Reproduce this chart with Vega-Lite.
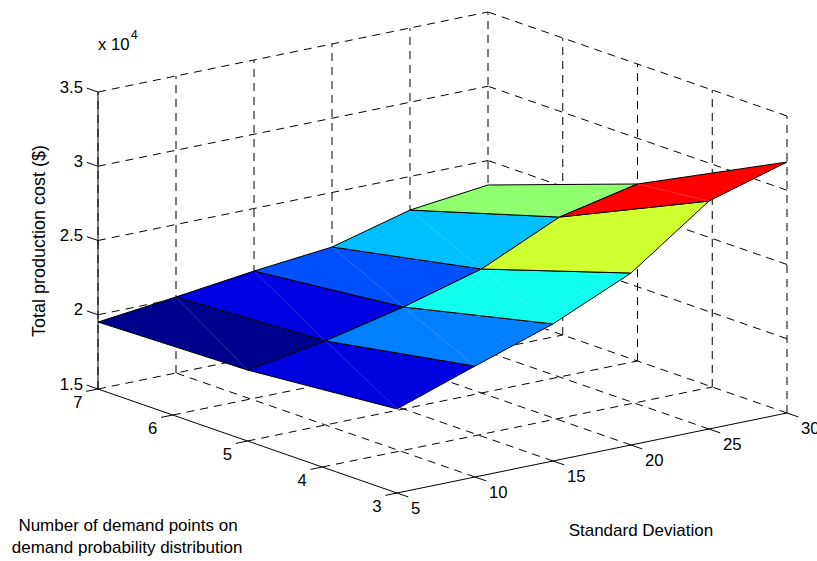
{"$schema":"https://vega.github.io/schema/vega-lite/v6.json","width":817,"height":561,"padding":0,"autosize":"none","background":"white","view":{"stroke":null},
"data":{"values":[
{"k":"grid","l":"w1","o":0,"sd":5,"n":7,"cost":15000},{"k":"grid","l":"w1","o":1,"sd":5,"n":7,"cost":35000},
{"k":"grid","l":"w2","o":0,"sd":10,"n":7,"cost":15000},{"k":"grid","l":"w2","o":1,"sd":10,"n":7,"cost":35000},
{"k":"grid","l":"w3","o":0,"sd":15,"n":7,"cost":15000},{"k":"grid","l":"w3","o":1,"sd":15,"n":7,"cost":35000},
{"k":"grid","l":"w4","o":0,"sd":20,"n":7,"cost":15000},{"k":"grid","l":"w4","o":1,"sd":20,"n":7,"cost":35000},
{"k":"grid","l":"w5","o":0,"sd":25,"n":7,"cost":15000},{"k":"grid","l":"w5","o":1,"sd":25,"n":7,"cost":35000},
{"k":"grid","l":"w6","o":0,"sd":30,"n":7,"cost":15000},{"k":"grid","l":"w6","o":1,"sd":30,"n":7,"cost":35000},
{"k":"grid","l":"h1","o":0,"sd":5,"n":7,"cost":15000},{"k":"grid","l":"h1","o":1,"sd":30,"n":7,"cost":15000},
{"k":"grid","l":"h2","o":0,"sd":5,"n":7,"cost":20000},{"k":"grid","l":"h2","o":1,"sd":30,"n":7,"cost":20000},
{"k":"grid","l":"h3","o":0,"sd":5,"n":7,"cost":25000},{"k":"grid","l":"h3","o":1,"sd":30,"n":7,"cost":25000},
{"k":"grid","l":"h4","o":0,"sd":5,"n":7,"cost":30000},{"k":"grid","l":"h4","o":1,"sd":30,"n":7,"cost":30000},
{"k":"grid","l":"h5","o":0,"sd":5,"n":7,"cost":35000},{"k":"grid","l":"h5","o":1,"sd":30,"n":7,"cost":35000},
{"k":"grid","l":"r1","o":0,"sd":30,"n":3,"cost":15000},{"k":"grid","l":"r1","o":1,"sd":30,"n":3,"cost":35000},
{"k":"grid","l":"r2","o":0,"sd":30,"n":4,"cost":15000},{"k":"grid","l":"r2","o":1,"sd":30,"n":4,"cost":35000},
{"k":"grid","l":"r3","o":0,"sd":30,"n":5,"cost":15000},{"k":"grid","l":"r3","o":1,"sd":30,"n":5,"cost":35000},
{"k":"grid","l":"r4","o":0,"sd":30,"n":6,"cost":15000},{"k":"grid","l":"r4","o":1,"sd":30,"n":6,"cost":35000},
{"k":"grid","l":"q1","o":0,"sd":30,"n":3,"cost":15000},{"k":"grid","l":"q1","o":1,"sd":30,"n":7,"cost":15000},
{"k":"grid","l":"q2","o":0,"sd":30,"n":3,"cost":20000},{"k":"grid","l":"q2","o":1,"sd":30,"n":7,"cost":20000},
{"k":"grid","l":"q3","o":0,"sd":30,"n":3,"cost":25000},{"k":"grid","l":"q3","o":1,"sd":30,"n":7,"cost":25000},
{"k":"grid","l":"q4","o":0,"sd":30,"n":3,"cost":30000},{"k":"grid","l":"q4","o":1,"sd":30,"n":7,"cost":30000},
{"k":"grid","l":"q5","o":0,"sd":30,"n":3,"cost":35000},{"k":"grid","l":"q5","o":1,"sd":30,"n":7,"cost":35000},
{"k":"grid","l":"f1","o":0,"sd":10,"n":3,"cost":15000},{"k":"grid","l":"f1","o":1,"sd":10,"n":7,"cost":15000},
{"k":"grid","l":"f2","o":0,"sd":15,"n":3,"cost":15000},{"k":"grid","l":"f2","o":1,"sd":15,"n":7,"cost":15000},
{"k":"grid","l":"f3","o":0,"sd":20,"n":3,"cost":15000},{"k":"grid","l":"f3","o":1,"sd":20,"n":7,"cost":15000},
{"k":"grid","l":"f4","o":0,"sd":25,"n":3,"cost":15000},{"k":"grid","l":"f4","o":1,"sd":25,"n":7,"cost":15000},
{"k":"grid","l":"g1","o":0,"sd":5,"n":4,"cost":15000},{"k":"grid","l":"g1","o":1,"sd":30,"n":4,"cost":15000},
{"k":"grid","l":"g2","o":0,"sd":5,"n":5,"cost":15000},{"k":"grid","l":"g2","o":1,"sd":30,"n":5,"cost":15000},
{"k":"grid","l":"g3","o":0,"sd":5,"n":6,"cost":15000},{"k":"grid","l":"g3","o":1,"sd":30,"n":6,"cost":15000},

{"k":"axis","l":"az","o":0,"sd":5,"n":7,"cost":15000},{"k":"axis","l":"az","o":1,"sd":5,"n":7,"cost":35000},
{"k":"axis","l":"an","o":0,"sd":5,"n":7,"cost":15000},{"k":"axis","l":"an","o":1,"sd":5,"n":3,"cost":15000},
{"k":"axis","l":"as","o":0,"sd":5,"n":3,"cost":15000},{"k":"axis","l":"as","o":1,"sd":30,"n":3,"cost":15000},
{"k":"axis","l":"tz1","o":0,"sd":5,"n":7,"cost":15000},{"k":"axis","l":"tz1","o":1,"sd":5,"n":7.15,"cost":15000},
{"k":"axis","l":"tz2","o":0,"sd":5,"n":7,"cost":20000},{"k":"axis","l":"tz2","o":1,"sd":5,"n":7.15,"cost":20000},
{"k":"axis","l":"tz3","o":0,"sd":5,"n":7,"cost":25000},{"k":"axis","l":"tz3","o":1,"sd":5,"n":7.15,"cost":25000},
{"k":"axis","l":"tz4","o":0,"sd":5,"n":7,"cost":30000},{"k":"axis","l":"tz4","o":1,"sd":5,"n":7.15,"cost":30000},
{"k":"axis","l":"tz5","o":0,"sd":5,"n":7,"cost":35000},{"k":"axis","l":"tz5","o":1,"sd":5,"n":7.15,"cost":35000},
{"k":"axis","l":"tn3","o":0,"sd":5,"n":3,"cost":15000},{"k":"axis","l":"tn3","o":1,"sd":4.25,"n":3,"cost":15000},
{"k":"axis","l":"tn4","o":0,"sd":5,"n":4,"cost":15000},{"k":"axis","l":"tn4","o":1,"sd":4.25,"n":4,"cost":15000},
{"k":"axis","l":"tn5","o":0,"sd":5,"n":5,"cost":15000},{"k":"axis","l":"tn5","o":1,"sd":4.25,"n":5,"cost":15000},
{"k":"axis","l":"tn6","o":0,"sd":5,"n":6,"cost":15000},{"k":"axis","l":"tn6","o":1,"sd":4.25,"n":6,"cost":15000},
{"k":"axis","l":"tn7","o":0,"sd":5,"n":7,"cost":15000},{"k":"axis","l":"tn7","o":1,"sd":4.25,"n":7,"cost":15000},
{"k":"axis","l":"ts5","o":0,"sd":5,"n":3,"cost":15000},{"k":"axis","l":"ts5","o":1,"sd":5,"n":2.85,"cost":15000},
{"k":"axis","l":"ts10","o":0,"sd":10,"n":3,"cost":15000},{"k":"axis","l":"ts10","o":1,"sd":10,"n":2.85,"cost":15000},
{"k":"axis","l":"ts15","o":0,"sd":15,"n":3,"cost":15000},{"k":"axis","l":"ts15","o":1,"sd":15,"n":2.85,"cost":15000},
{"k":"axis","l":"ts20","o":0,"sd":20,"n":3,"cost":15000},{"k":"axis","l":"ts20","o":1,"sd":20,"n":2.85,"cost":15000},
{"k":"axis","l":"ts25","o":0,"sd":25,"n":3,"cost":15000},{"k":"axis","l":"ts25","o":1,"sd":25,"n":2.85,"cost":15000},
{"k":"axis","l":"ts30","o":0,"sd":30,"n":3,"cost":15000},{"k":"axis","l":"ts30","o":1,"sd":30,"n":2.85,"cost":15000},

{"k":"cell","l":"A","o":0,"sd":5,"n":7,"cost":19510},{"k":"cell","l":"A","o":1,"sd":10,"n":7,"cost":20120},{"k":"cell","l":"A","o":2,"sd":10,"n":5,"cost":20660},{"k":"cell","l":"A","o":3,"sd":5,"n":5,"cost":19780},{"k":"cell","l":"A","o":4,"sd":5,"n":7,"cost":19510},
{"k":"cell","l":"B","o":0,"sd":10,"n":7,"cost":20120},{"k":"cell","l":"B","o":1,"sd":15,"n":7,"cost":20790},{"k":"cell","l":"B","o":2,"sd":15,"n":5,"cost":21870},{"k":"cell","l":"B","o":3,"sd":10,"n":5,"cost":20660},{"k":"cell","l":"B","o":4,"sd":10,"n":7,"cost":20120},
{"k":"cell","l":"C","o":0,"sd":15,"n":7,"cost":20790},{"k":"cell","l":"C","o":1,"sd":20,"n":7,"cost":21330},{"k":"cell","l":"C","o":2,"sd":20,"n":5,"cost":23350},{"k":"cell","l":"C","o":3,"sd":15,"n":5,"cost":21870},{"k":"cell","l":"C","o":4,"sd":15,"n":7,"cost":20790},
{"k":"cell","l":"D","o":0,"sd":20,"n":7,"cost":21330},{"k":"cell","l":"D","o":1,"sd":25,"n":7,"cost":22740},{"k":"cell","l":"D","o":2,"sd":25,"n":5,"cost":25770},{"k":"cell","l":"D","o":3,"sd":20,"n":5,"cost":23350},{"k":"cell","l":"D","o":4,"sd":20,"n":7,"cost":21330},
{"k":"cell","l":"E","o":0,"sd":25,"n":7,"cost":22740},{"k":"cell","l":"E","o":1,"sd":30,"n":7,"cost":23350},{"k":"cell","l":"E","o":2,"sd":30,"n":5,"cost":26920},{"k":"cell","l":"E","o":3,"sd":25,"n":5,"cost":25770},{"k":"cell","l":"E","o":4,"sd":25,"n":7,"cost":22740},
{"k":"cell","l":"F","o":0,"sd":5,"n":5,"cost":19780},{"k":"cell","l":"F","o":1,"sd":10,"n":5,"cost":20660},{"k":"cell","l":"F","o":2,"sd":10,"n":3,"cost":22470},{"k":"cell","l":"F","o":3,"sd":5,"n":3,"cost":20660},{"k":"cell","l":"F","o":4,"sd":5,"n":5,"cost":19780},
{"k":"cell","l":"G","o":0,"sd":10,"n":5,"cost":20660},{"k":"cell","l":"G","o":1,"sd":15,"n":5,"cost":21870},{"k":"cell","l":"G","o":2,"sd":15,"n":3,"cost":24230},{"k":"cell","l":"G","o":3,"sd":10,"n":3,"cost":22470},{"k":"cell","l":"G","o":4,"sd":10,"n":5,"cost":20660},
{"k":"cell","l":"H","o":0,"sd":15,"n":5,"cost":21870},{"k":"cell","l":"H","o":1,"sd":20,"n":5,"cost":23350},{"k":"cell","l":"H","o":2,"sd":20,"n":3,"cost":26580},{"k":"cell","l":"H","o":3,"sd":15,"n":3,"cost":24230},{"k":"cell","l":"H","o":4,"sd":15,"n":5,"cost":21870},
{"k":"cell","l":"I","o":0,"sd":20,"n":5,"cost":23350},{"k":"cell","l":"I","o":1,"sd":25,"n":5,"cost":25770},{"k":"cell","l":"I","o":2,"sd":25,"n":3,"cost":30350},{"k":"cell","l":"I","o":3,"sd":20,"n":3,"cost":26580},{"k":"cell","l":"I","o":4,"sd":20,"n":5,"cost":23350},
{"k":"cell","l":"J","o":0,"sd":25,"n":5,"cost":25770},{"k":"cell","l":"J","o":1,"sd":30,"n":5,"cost":26920},{"k":"cell","l":"J","o":2,"sd":30,"n":3,"cost":31900},{"k":"cell","l":"J","o":3,"sd":25,"n":3,"cost":30350},{"k":"cell","l":"J","o":4,"sd":25,"n":5,"cost":25770},

{"k":"diag","l":"A","o":0,"sd":10,"n":7,"cost":20120},{"k":"diag","l":"A","o":1,"sd":5,"n":5,"cost":19780},
{"k":"diag","l":"B","o":0,"sd":15,"n":7,"cost":20790},{"k":"diag","l":"B","o":1,"sd":10,"n":5,"cost":20660},
{"k":"diag","l":"C","o":0,"sd":20,"n":7,"cost":21330},{"k":"diag","l":"C","o":1,"sd":15,"n":5,"cost":21870},
{"k":"diag","l":"D","o":0,"sd":25,"n":7,"cost":22740},{"k":"diag","l":"D","o":1,"sd":20,"n":5,"cost":23350},
{"k":"diag","l":"E","o":0,"sd":30,"n":7,"cost":23350},{"k":"diag","l":"E","o":1,"sd":25,"n":5,"cost":25770},
{"k":"diag","l":"F","o":0,"sd":10,"n":5,"cost":20660},{"k":"diag","l":"F","o":1,"sd":5,"n":3,"cost":20660},
{"k":"diag","l":"G","o":0,"sd":15,"n":5,"cost":21870},{"k":"diag","l":"G","o":1,"sd":10,"n":3,"cost":22470},
{"k":"diag","l":"H","o":0,"sd":20,"n":5,"cost":23350},{"k":"diag","l":"H","o":1,"sd":15,"n":3,"cost":24230},
{"k":"diag","l":"I","o":0,"sd":25,"n":5,"cost":25770},{"k":"diag","l":"I","o":1,"sd":20,"n":3,"cost":26580},
{"k":"diag","l":"J","o":0,"sd":30,"n":5,"cost":26920},{"k":"diag","l":"J","o":1,"sd":25,"n":3,"cost":30350},

{"k":"zl","label":"1.5","sd":5,"n":7,"cost":15000},{"k":"zl","label":"2","sd":5,"n":7,"cost":20000},{"k":"zl","label":"2.5","sd":5,"n":7,"cost":25000},{"k":"zl","label":"3","sd":5,"n":7,"cost":30000},{"k":"zl","label":"3.5","sd":5,"n":7,"cost":35000},
{"k":"nl","label":"3","sd":5,"n":3,"cost":15000},{"k":"nl","label":"4","sd":5,"n":4,"cost":15000},{"k":"nl","label":"5","sd":5,"n":5,"cost":15000},{"k":"nl","label":"6","sd":5,"n":6,"cost":15000},{"k":"nl","label":"7","sd":5,"n":7,"cost":15000},
{"k":"sl","label":"5","sd":5,"n":3,"cost":15000},{"k":"sl","label":"10","sd":10,"n":3,"cost":15000},{"k":"sl","label":"15","sd":15,"n":3,"cost":15000},{"k":"sl","label":"20","sd":20,"n":3,"cost":15000},{"k":"sl","label":"25","sd":25,"n":3,"cost":15000},{"k":"sl","label":"30","sd":30,"n":3,"cost":15000},
{"k":"title","label":"Standard Deviation","sd":10.43,"n":0.87,"cost":15000},
{"k":"title","label":"Number of demand points on","sd":-9.67,"n":3.537,"cost":15000},
{"k":"title","label":"demand probability distribution","sd":-12.26,"n":3.009,"cost":15000},
{"k":"rot","label":"Total production cost ($)","sd":1.28,"n":7,"cost":25770},
{"k":"exp","label":"x 10","sd":5,"n":7,"cost":38160},
{"k":"exp4","label":"4","sd":7.115,"n":7,"cost":38380}
]},
"transform":[
{"calculate":"397+15.6*(datum.sd-5)-74.75*(datum.n-3)","as":"px"},
{"calculate":"493-3.2*(datum.sd-5)-26*(datum.n-3)-148.5*(datum.cost/10000-1.5)","as":"py"}
],
"encoding":{
"x":{"field":"px","type":"quantitative","scale":{"domain":[0,817],"nice":false,"zero":false},"axis":null},
"y":{"field":"py","type":"quantitative","scale":{"domain":[0,561],"nice":false,"zero":false,"reverse":true},"axis":null}
},
"layer":[
{"transform":[{"filter":"datum.k==='grid'"}],"mark":{"type":"line","stroke":"#000000","strokeWidth":1,"strokeDash":[8,6],"interpolate":"linear"},"encoding":{"detail":{"field":"l"},"order":{"field":"o","type":"quantitative"}}},
{"transform":[{"filter":"datum.k==='axis'"}],"mark":{"type":"line","stroke":"#000000","strokeWidth":1},"encoding":{"detail":{"field":"l"},"order":{"field":"o","type":"quantitative"}}},
{"transform":[{"filter":"datum.k==='cell'"}],"mark":{"type":"line","stroke":"#000000","strokeWidth":1,"strokeJoin":"miter"},"encoding":{"fill":{"field":"l","type":"nominal","legend":null,"scale":{"domain":["A","B","C","D","E","F","G","H","I","J"],"range":["#00008F","#0000E0","#0050FF","#00BFFF","#8FFF70","#0000DF","#0080FF","#10FFEF","#CFFF30","#FF0000"]}},"order":{"field":"o","type":"quantitative"}}},
{"transform":[{"filter":"datum.k==='diag'"}],"mark":{"type":"line","stroke":"#FFFFFF","strokeWidth":0.5,"opacity":0.35},"encoding":{"detail":{"field":"l"},"order":{"field":"o","type":"quantitative"}}},
{"transform":[{"filter":"datum.k==='zl'"}],"mark":{"type":"text","font":"Liberation Sans","fontSize":16.7,"align":"right","baseline":"middle","dx":-15,"dy":-4.5,"color":"#000000"},"encoding":{"text":{"field":"label"}}},
{"transform":[{"filter":"datum.k==='nl'"}],"mark":{"type":"text","font":"Liberation Sans","fontSize":16.7,"align":"center","baseline":"middle","dx":-20,"dy":14,"color":"#000000"},"encoding":{"text":{"field":"label"}}},
{"transform":[{"filter":"datum.k==='sl'"}],"mark":{"type":"text","font":"Liberation Sans","fontSize":16.7,"align":"left","baseline":"middle","dx":14,"dy":16,"color":"#000000"},"encoding":{"text":{"field":"label"}}},
{"transform":[{"filter":"datum.k==='title'"}],"mark":{"type":"text","font":"Liberation Sans","fontSize":17,"align":"center","baseline":"middle","color":"#000000"},"encoding":{"text":{"field":"label"}}},
{"transform":[{"filter":"datum.k==='rot'"}],"mark":{"type":"text","font":"Liberation Sans","fontSize":18,"align":"center","baseline":"middle","angle":270,"color":"#000000"},"encoding":{"text":{"field":"label"}}},
{"transform":[{"filter":"datum.k==='exp'"}],"mark":{"type":"text","font":"Liberation Sans","fontSize":16.7,"align":"left","baseline":"middle","color":"#000000"},"encoding":{"text":{"field":"label"}}},
{"transform":[{"filter":"datum.k==='exp4'"}],"mark":{"type":"text","font":"Liberation Sans","fontSize":12,"align":"left","baseline":"middle","color":"#000000"},"encoding":{"text":{"field":"label"}}}
]}
